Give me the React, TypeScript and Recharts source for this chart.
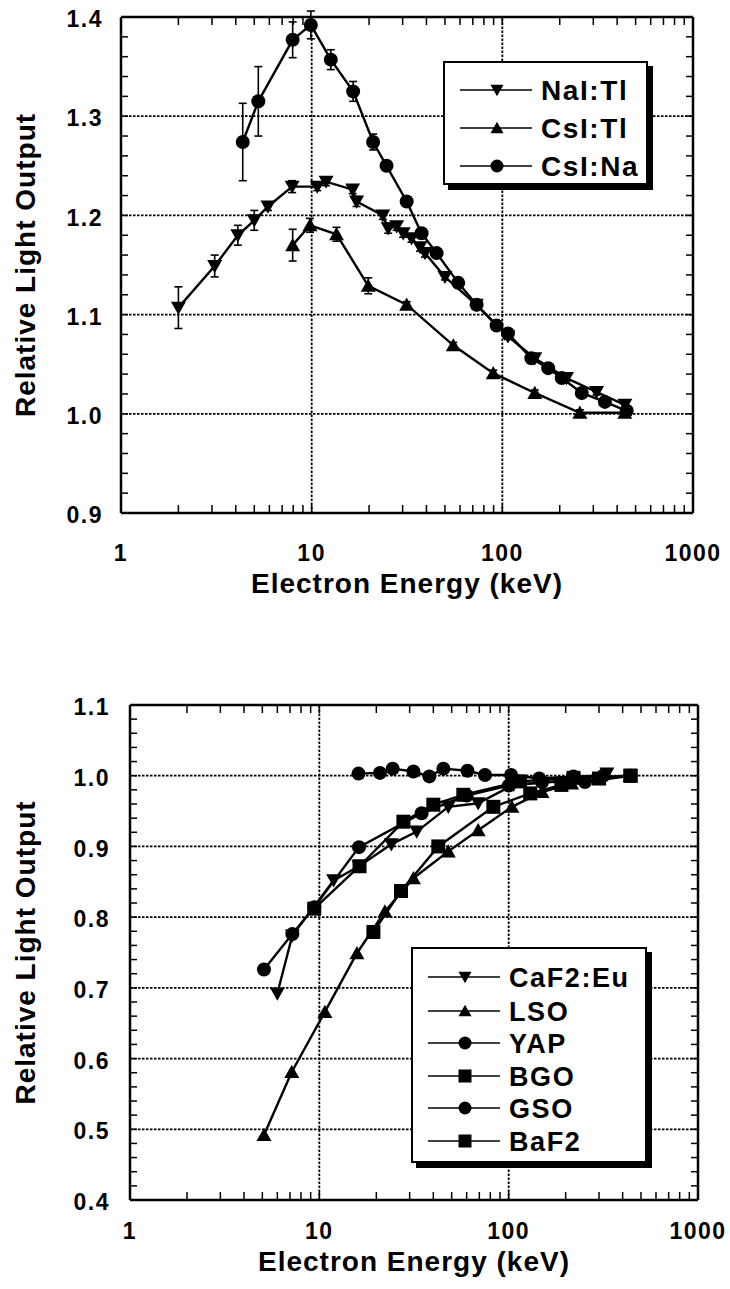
import React from 'react';
import { LineChart, Line, XAxis, YAxis, ErrorBar, Legend, Label, ReferenceLine } from 'recharts';

const FONT = '"Liberation Sans", Arial, Helvetica, sans-serif';

// ---- top panel (alkali halides) ----
const naiEnergy = [2.0, 3.1, 4.1, 5.0, 5.9, 7.9, 10.7, 11.9, 16.4, 17.2, 23.6, 25.2, 27.9, 30.2, 33.4, 37.0, 39.3, 50, 73, 107, 148, 217, 312, 439];
const naiLight = [1.107, 1.149, 1.18, 1.195, 1.209, 1.229, 1.229, 1.234, 1.226, 1.214, 1.2, 1.187, 1.189, 1.182, 1.177, 1.168, 1.162, 1.138, 1.11, 1.078, 1.056, 1.036, 1.022, 1.009];
const naiErr = [0.021, 0.011, 0.01, 0.01, 0.004, 0.006, 0.004, 0.004, 0.004, 0.005, 0.004, 0.005, 0.004, 0.004, 0.004, 0.004, 0.004, 0.003, 0.003, 0.003, 0.003, 0.003, 0.003, 0.003];

const csitlEnergy = [7.95, 9.8, 13.5, 19.8, 31.5, 55.3, 89.6, 148, 255, 439];
const csitlLight = [1.17, 1.19, 1.181, 1.129, 1.11, 1.069, 1.041, 1.021, 1.001, 1.001];
const csitlErr = [0.016, 0.007, 0.007, 0.008, 0.003, 0.003, 0.003, 0.003, 0.003, 0.003];

const csinaEnergy = [4.35, 5.25, 7.95, 9.9, 12.6, 16.5, 21, 24.7, 31.5, 37.7, 45.2, 58.7, 73.3, 93.3, 107, 142, 174, 205, 261, 345, 449];
const csinaLight = [1.274, 1.315, 1.377, 1.392, 1.357, 1.325, 1.274, 1.25, 1.214, 1.182, 1.162, 1.132, 1.11, 1.089, 1.081, 1.056, 1.046, 1.036, 1.021, 1.012, 1.003];
const csinaErr = [0.039, 0.035, 0.018, 0.014, 0.01, 0.01, 0.008, 0.004, 0.004, 0.003, 0.003, 0.003, 0.003, 0.003, 0.003, 0.003, 0.003, 0.003, 0.003, 0.003, 0.003];

// ---- bottom panel (oxides / fluorides) ----
const caf2Energy = [6.0, 7.2, 11.9, 16.2, 24, 32.7, 48, 69, 106, 150, 220, 330];
const caf2Light = [0.692, 0.774, 0.852, 0.872, 0.903, 0.921, 0.956, 0.961, 0.987, 0.99, 0.995, 1.003];

const lsoEnergy = [5.1, 7.15, 10.7, 15.8, 22.2, 31.4, 48, 69, 104, 150, 215, 300, 440];
const lsoLight = [0.492, 0.581, 0.666, 0.749, 0.808, 0.855, 0.893, 0.923, 0.956, 0.977, 0.989, 0.996, 1.0];

const yapEnergy = [16.1, 20.9, 24.4, 31.4, 38.1, 45.2, 60.6, 75, 103, 145, 220, 316];
const yapLight = [1.003, 1.004, 1.01, 1.006, 0.999, 1.01, 1.007, 1.001, 1.001, 0.996, 0.999, 1.0];

const bgoEnergy = [9.4, 16.3, 27.8, 40, 57.6, 115, 220, 440];
const bgoLight = [0.812, 0.872, 0.935, 0.959, 0.973, 0.992, 0.997, 1.0];

const gsoEnergy = [5.1, 7.2, 9.4, 16.2, 34.7, 60, 100, 150, 253, 440];
const gsoLight = [0.726, 0.776, 0.814, 0.899, 0.947, 0.972, 0.986, 0.991, 0.991, 1.0];

const baf2Energy = [19.3, 27, 42.5, 83, 130, 190, 300, 440];
const baf2Light = [0.779, 0.837, 0.9, 0.956, 0.975, 0.987, 0.996, 1.0];

// ---- axes ----
const xTickLabels = [1, 10, 100, 1000];
const xAllTicks = [1, 2, 3, 4, 5, 6, 7, 8, 9, 10, 20, 30, 40, 50, 60, 70, 80, 90, 100, 200, 300, 400, 500, 600, 700, 800, 900, 1000];
const topYTicks = [0.9, 1.0, 1.1, 1.2, 1.3, 1.4];
const bottomYTicks = [0.4, 0.5, 0.6, 0.7, 0.8, 0.9, 1.0, 1.1];

// unlabelled inner ticks every 0.02
const minorSteps = (lo: number, hi: number) => {
  const out: number[] = [];
  for (let k = Math.round(lo * 50); k <= Math.round(hi * 50); k++) out.push(k / 50);
  return out;
};

type Shape = 'down' | 'up' | 'circle' | 'square';
type Row = { e: number; v: number; err?: number };

const toRows = (e: number[], v: number[], err?: number[]): Row[] =>
  e.map((x, i) => (err ? { e: x, v: v[i], err: err[i] } : { e: x, v: v[i] }));

const Marker = ({ shape, cx, cy, size }: { shape: Shape; cx: number; cy: number; size: number }) => {
  const h = size / 2;
  if (shape === 'circle') return <circle cx={cx} cy={cy} r={h} fill="#000" />;
  if (shape === 'square') return <rect x={cx - h} y={cy - h} width={size} height={size} fill="#000" />;
  if (shape === 'down')
    return <path d={`M${cx - h},${cy - size * 0.4}L${cx + h},${cy - size * 0.4}L${cx},${cy + size * 0.48}Z`} fill="#000" />;
  return <path d={`M${cx - h},${cy + size * 0.4}L${cx + h},${cy + size * 0.4}L${cx},${cy - size * 0.48}Z`} fill="#000" />;
};

const dotFor = (shape: Shape, size: number) => (p: any) => {
  if (p.cx == null || p.cy == null) return <g key={`d-${p.index}`} />;
  return <Marker key={`d-${p.index}`} shape={shape} cx={p.cx} cy={p.cy} size={size} />;
};

interface SeriesDef { name: string; shape: Shape; rows: Row[]; size: number }

const LegendBox = ({ items, width, height, rows, text }: { items: SeriesDef[]; width: number; height: number; rows: number[]; text: number }) => (
  <div style={{ width, height, boxSizing: 'border-box', background: '#fff', border: '2px solid #000', boxShadow: '5px 5px 0 #000' }}>
    <svg width={width - 4} height={height - 4} style={{ display: 'block' }}>
      {items.map((it, i) => {
        const y = rows[i] - 2;
        return (
          <g key={it.name}>
            <line x1={15} x2={87} y1={y} y2={y} stroke="#000" strokeWidth={1.5} />
            <Marker shape={it.shape} cx={52} cy={y} size={13} />
            <text x={96} y={y + text * 0.36} fontFamily={FONT} fontWeight="bold" fontSize={text} fill="#000" letterSpacing={1.6}>
              {it.name}
            </text>
          </g>
        );
      })}
    </svg>
  </div>
);

const labelFont = { fontSize: 23, fontWeight: 'bold', fontFamily: FONT, letterSpacing: 1.5 } as any;
const titleStyle = { fontSize: 28, fontWeight: 'bold', fill: '#000', fontFamily: FONT, letterSpacing: 1 } as any;
const TICK = 8;

interface PanelProps {
  height: number;
  margin: { top: number; right: number; bottom: number; left: number };
  yWidth: number;
  yDomain: [number, number];
  yTicks: number[];
  series: SeriesDef[];
  errors: boolean;
  xLabelGap: number;
  xTitleOffset: number;
  yLabelGap: number;
  legendPos: { left: number; top: number; width: number; height: number };
  legendRows: number[];
  legendText: number;
}

const Panel = (p: PanelProps) => {
  const yMinor = minorSteps(p.yDomain[0], p.yDomain[1]);
  const plotTop = p.margin.top;
  const plotRight = 730 - p.margin.right;

  // bottom axis: labels at decades, inward ticks on bottom and top edges
  const XTick = (t: any) => {
    const v = t.payload.value;
    const x = t.x;
    const yb = t.y;
    const edge = v === 1 || v === 1000;
    return (
      <g>
        {!edge && <line x1={x} x2={x} y1={yb} y2={yb - TICK} stroke="#000" strokeWidth={1.5} />}
        {!edge && <line x1={x} x2={x} y1={plotTop} y2={plotTop + TICK} stroke="#000" strokeWidth={1.5} />}
        {xTickLabels.includes(v) && (
          <text x={x} y={yb + p.xLabelGap} textAnchor="middle" fill="#000" {...labelFont} dy="0.71em">
            {v}
          </text>
        )}
      </g>
    );
  };

  // left axis: labels every 0.1, inward ticks on left and right edges
  const YTick = (t: any) => {
    const v = t.payload.value;
    const y = t.y;
    const xl = t.x;
    const major = p.yTicks.some((m) => Math.abs(m - v) < 1e-6);
    const edge = Math.abs(v - p.yDomain[0]) < 1e-6 || Math.abs(v - p.yDomain[1]) < 1e-6;
    return (
      <g>
        {!edge && <line x1={xl} x2={xl + TICK - 1} y1={y} y2={y} stroke="#000" strokeWidth={1.5} />}
        {!edge && <line x1={plotRight} x2={plotRight - TICK + 1} y1={y} y2={y} stroke="#000" strokeWidth={1.5} />}
        {major && (
          <text x={xl - p.yLabelGap} y={y + 2} textAnchor="end" fill="#000" {...labelFont} dy="0.355em">
            {v.toFixed(1)}
          </text>
        )}
      </g>
    );
  };

  return (
    <LineChart width={730} height={p.height} margin={p.margin}>
      <XAxis
        xAxisId="x" dataKey="e" type="number" scale="log" domain={[1, 1000]} allowDataOverflow
        ticks={xAllTicks} interval={0} height={40} tickSize={0} tickMargin={0}
        axisLine={false} tickLine={false} tick={XTick}
      >
        <Label value="Electron Energy (keV)" position="bottom" offset={p.xTitleOffset} style={titleStyle} />
      </XAxis>
      <YAxis
        yAxisId="y" type="number" domain={p.yDomain} allowDataOverflow ticks={yMinor} interval={0}
        width={p.yWidth} tickSize={0} tickMargin={0} axisLine={false} tickLine={false} tick={YTick}
      >
        <Label value="Relative Light Output" angle={-90} position="insideLeft" offset={15} style={{ ...titleStyle, textAnchor: 'middle' }} />
      </YAxis>
      {[10, 100].map((v) => (
        <ReferenceLine key={`gx${v}`} xAxisId="x" yAxisId="y" x={v} stroke="#000" strokeWidth={1.8} strokeDasharray="2.5 1.5" />
      ))}
      {p.yTicks.slice(1, -1).map((v) => (
        <ReferenceLine key={`gy${v}`} xAxisId="x" yAxisId="y" y={v} stroke="#000" strokeWidth={1.8} strokeDasharray="2.5 1.5" />
      ))}
      <ReferenceLine xAxisId="x" yAxisId="y" x={1} stroke="#000" strokeWidth={2.5} />
      <ReferenceLine xAxisId="x" yAxisId="y" x={1000} stroke="#000" strokeWidth={2.5} />
      <ReferenceLine xAxisId="x" yAxisId="y" y={p.yDomain[0]} stroke="#000" strokeWidth={2.5} />
      <ReferenceLine xAxisId="x" yAxisId="y" y={p.yDomain[1]} stroke="#000" strokeWidth={2.5} />
      {p.series.map((s) => (
        <Line
          key={s.name} name={s.name} data={s.rows} dataKey="v" xAxisId="x" yAxisId="y"
          stroke="#000" strokeWidth={2.4} dot={dotFor(s.shape, s.size)} activeDot={false}
          isAnimationActive={false} legendType="none"
        >
          {p.errors && <ErrorBar dataKey="err" direction="y" width={4} stroke="#000" strokeWidth={1.6} isAnimationActive={false} />}
        </Line>
      ))}
      <Legend
        layout="vertical" align="center" verticalAlign="middle"
        wrapperStyle={{ left: p.legendPos.left, top: p.legendPos.top, width: p.legendPos.width, height: p.legendPos.height }}
        content={() => <LegendBox items={p.series} width={p.legendPos.width} height={p.legendPos.height} rows={p.legendRows} text={p.legendText} />}
      />
    </LineChart>
  );
};

const topSeries: SeriesDef[] = [
  { name: 'NaI:Tl', shape: 'down', rows: toRows(naiEnergy, naiLight, naiErr), size: 15 },
  { name: 'CsI:Tl', shape: 'up', rows: toRows(csitlEnergy, csitlLight, csitlErr), size: 15 },
  { name: 'CsI:Na', shape: 'circle', rows: toRows(csinaEnergy, csinaLight, csinaErr), size: 14 },
];

const bottomSeries: SeriesDef[] = [
  { name: 'CaF2:Eu', shape: 'down', rows: toRows(caf2Energy, caf2Light), size: 15 },
  { name: 'LSO', shape: 'up', rows: toRows(lsoEnergy, lsoLight), size: 15 },
  { name: 'YAP', shape: 'circle', rows: toRows(yapEnergy, yapLight), size: 14 },
  { name: 'BGO', shape: 'square', rows: toRows(bgoEnergy, bgoLight), size: 14 },
  { name: 'GSO', shape: 'circle', rows: toRows(gsoEnergy, gsoLight), size: 14 },
  { name: 'BaF2', shape: 'square', rows: toRows(baf2Energy, baf2Light), size: 14 },
];

export default function App() {
  return (
    <div style={{ position: 'absolute', left: 0, top: 0, width: 730, height: 1289, background: '#fff' }}>
      <div style={{ position: 'absolute', left: 0, top: 0 }}>
        <Panel
          height={600}
          margin={{ top: 17, right: 37, bottom: 47, left: 10 }}
          yWidth={111}
          yDomain={[0.9, 1.4]}
          yTicks={topYTicks}
          series={topSeries}
          errors
          xLabelGap={32}
          xTitleOffset={20}
          yLabelGap={18}
          legendPos={{ left: 443, top: 61, width: 205, height: 124 }}
          legendRows={[29, 67, 105]}
          legendText={28}
        />
      </div>
      <div style={{ position: 'absolute', left: 0, top: 600 }}>
        <Panel
          height={689}
          margin={{ top: 105, right: 32, bottom: 49, left: 10 }}
          yWidth={120}
          yDomain={[0.4, 1.1]}
          yTicks={bottomYTicks}
          series={bottomSeries}
          errors={false}
          xLabelGap={23}
          xTitleOffset={11}
          yLabelGap={20}
          legendPos={{ left: 411, top: 347, width: 236, height: 216 }}
          legendRows={[30, 64, 96, 129, 161, 194]}
          legendText={27}
        />
      </div>
    </div>
  );
}
